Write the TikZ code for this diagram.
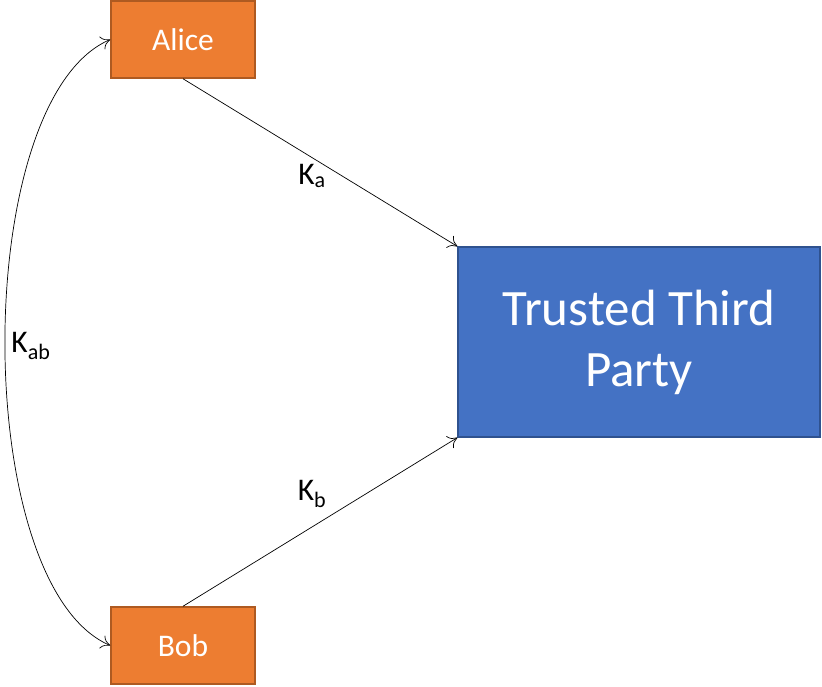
\documentclass[tikz,border=0pt]{standalone}
\usepackage{fontspec}
\setmainfont{Carlito}
\usepackage{tikz}
\usetikzlibrary{arrows.meta}

\definecolor{aliceorange}{HTML}{ED7D31}
\definecolor{aliceborder}{HTML}{AE5A21}
\definecolor{ttpblue}{HTML}{4472C4}
\definecolor{ttpborder}{HTML}{2F528F}

\tikzset{
  party/.style={rectangle,fill=aliceorange,draw=aliceborder,line width=1.5pt,
    minimum width=144pt,minimum height=77pt,text=white,font=\fontsize{31.5}{37}\selectfont},
  server/.style={rectangle,fill=ttpblue,draw=ttpborder,line width=1.2pt,
    minimum width=362pt,minimum height=190pt,text=white,align=center,
    font=\fontsize{51}{61}\selectfont},
  keylabel/.style={font=\fontsize{31.5}{37}\selectfont}
}

\begin{document}
\begin{tikzpicture}[x=1pt,y=-1pt,->,>={To[length=9pt,width=14pt]},line width=0.7pt]
        \useasboundingbox (0,0) rectangle (822,686);
        \node[party] (alice) at (183,39.5) {Alice};
        \node[party] (bob) at (183,645.5) {Bob};
        \node[server] (ttp) at (639,342) {\raisebox{-2pt}{Trusted Third}\\\raisebox{-2pt}{Party}};

        \node[keylabel] (ka) at (312,176) {K\textsubscript{a}};
        \node[keylabel] (kb) at (312,494) {K\textsubscript{b}};
        \node[keylabel] (kab) at (31,346) {K\textsubscript{ab}};

        \path (alice.south) edge (ttp.north west)
              (bob.north) edge (ttp.south west);
        \draw[<->] (alice.west) .. controls (-30,100) and (-30,585) .. (bob.west);
\end{tikzpicture}
\end{document}
